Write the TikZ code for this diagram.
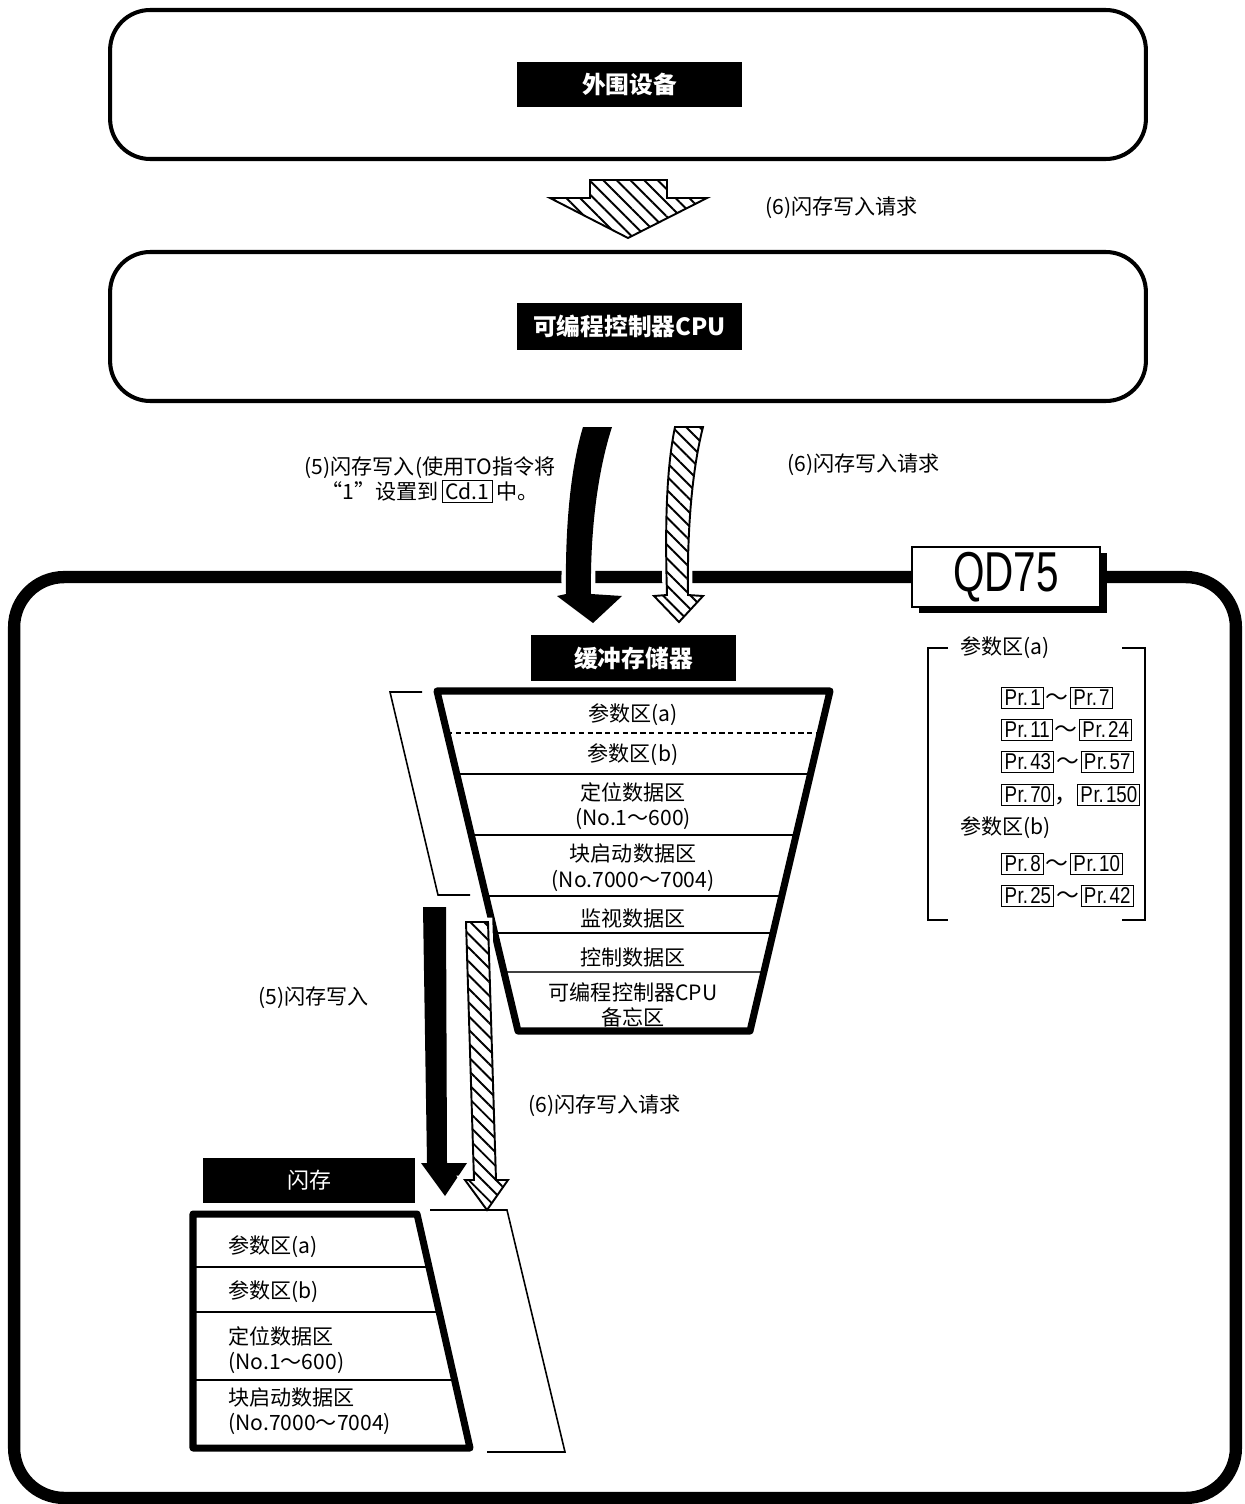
\documentclass[tikz,border=0pt]{standalone}
\usepackage{fontspec}
\usepackage{graphicx}
\setmainfont{Noto Sans CJK SC}
\newfontfamily\prfont{Liberation Sans}
\newfontfamily\qdfont{Liberation Sans}
\usetikzlibrary{positioning, calc, shadows, patterns.meta}
\definecolor{fmInk}{HTML}{000000}
\definecolor{fmRule}{HTML}{404040}
\setlength{\fboxsep}{1.2pt}
\setlength{\fboxrule}{0.6pt}
\newcommand{\prb}[1]{\fbox{\prfont\scalebox{0.82}[1]{P\kern0.5pt r.\kern1.5pt#1}}}
\tikzset{
    fmOuterBox/.style={
        draw=fmInk,
        line width=2.3pt,
        rounded corners=0.8cm,
        minimum width=20.72cm,
        minimum height=2.98cm
    },
    fmFrame/.style={
        draw=fmInk,
        line width=7pt,
        rounded corners=1cm,
        minimum width=24.44cm,
        minimum height=18.42cm
    },
    fmTag/.style={
        fill=fmInk,
        text=white,
        font=\fontsize{13.5}{16}\selectfont\bfseries
    },
    fmQdTag/.style={
        draw=fmInk,
        fill=white,
        line width=1.1pt,
        minimum width=3.76cm,
        minimum height=1.2cm,
        drop shadow={shadow xshift=0.14cm, shadow yshift=-0.12cm, fill=fmInk, opacity=1}
    },
    % memory outlines
    fmMem/.style={draw=fmInk, line width=4pt, line join=round},
    fmRuleLine/.style={draw=fmInk, line width=1.1pt},
    fmGuide/.style={draw=fmInk, line width=0.9pt},
    % arrows
    fmHatch/.style={
        draw=fmInk,
        line width=1.1pt,
        pattern={Lines[angle=-45, distance=5.5pt, line width=1.1pt]},
        preaction={fill=white, draw=white, line width=5pt}
    },
    fmSolid/.style={fill=fmInk, preaction={draw=white, line width=5pt}},
    % labels
    fmText/.style={font=\fontsize{12}{14.5}\selectfont},
    fmPrRow/.style={anchor=west, font=\fontsize{13}{15}\selectfont}
}

\begin{document}
\begin{tikzpicture}[x=0.02cm, y=-0.02cm, every node/.style={inner sep=0pt}]
    \useasboundingbox (0,0) rectangle (1244,1504);

    % peripheral device and PLC CPU
    \node[fmOuterBox] (periph) at (628,84.5) {};
    \node[fmTag, minimum width=4.5cm, minimum height=0.9cm] (periphTag) at (629.5,84.5) {外围设备};
    \node[fmOuterBox] (cpu) at (628,326.5) {};
    \node[fmTag, minimum width=4.5cm, minimum height=0.94cm] (cpuTag) at (629.5,326.5) {可编程控制器CPU};

    \draw[fmHatch] (590,180) -- (667,180) -- (667,198) -- (707,198) -- (628,238) -- (550,198) -- (590,198) -- cycle;
    \node[fmText, anchor=west] (reqTop) at (765,208) {(6)闪存写入请求};

    % QD75 module
    \node[fmFrame] (qdFrame) at (625,1037.5) {};
    \node[fmQdTag] (qdTag) at (1006,577) {\scalebox{0.72}[1]{\fontsize{32}{32}\selectfont\qdfont QD75}};

    \fill[fmSolid] (583,427) -- (612,427) .. controls (598,470) and (590,530) .. (591,594) -- (622,596) -- (593,623) -- (557,596) -- (566,594) .. controls (565,530) and (570,470) .. (583,427) -- cycle;
    \draw[fmHatch] (675,427) -- (703,427) .. controls (692,470) and (687,530) .. (688,595) -- (703,596) -- (679,622) -- (654,596) -- (667,595) .. controls (665,530) and (666,470) .. (675,427) -- cycle;
    \node[fmText, align=center] (writeTop) at (430,480) {(5)闪存写入(使用TO指令将\\“1”设置到\,\fbox{Cd.1}\,中。};
    \node[fmText, anchor=west] (reqMid) at (787,465) {(6)闪存写入请求};

    % buffer memory
    \node[fmTag, minimum width=4.1cm, minimum height=0.92cm] (bufTag) at (633.5,658) {缓冲存储器};
    \coordinate (btl) at (437,691);
    \coordinate (btr) at (830,691);
    \coordinate (bbr) at (750,1031);
    \coordinate (bbl) at (518,1031);
    \draw[fmRuleLine, line width=1pt, dash pattern=on 3pt off 2pt] ($(btl)!0.1235!(bbl)$) -- ($(btr)!0.1235!(bbr)$);
    \foreach \f in {0.2441, 0.4235, 0.6029, 0.7118}
        \draw[fmRuleLine] ($(btl)!\f!(bbl)$) -- ($(btr)!\f!(bbr)$);
    \draw[fmRuleLine, line width=1.6pt, draw=fmRule] ($(btl)!0.8265!(bbl)$) -- ($(btr)!0.8265!(bbr)$);
    \draw[fmMem] (btl) -- (btr) -- (bbr) -- (bbl) -- cycle;
    \draw[fmGuide] (422,692) -- (390,692) -- (438,895) -- (470,895);

    \node[fmText] (bufA) at (633,715) {参数区(a)};
    \node[fmText] (bufB) at (633,755) {参数区(b)};
    \node[fmText, align=center] (bufPos) at (633,806) {定位数据区\\(No.1～600)};
    \node[fmText, align=center] (bufBlk) at (633,867.5) {块启动数据区\\(No.7000～7004)};
    \node[fmText] (bufMon) at (633,918) {监视数据区};
    \node[fmText] (bufCtl) at (633,957) {控制数据区};
    \node[fmText, align=center] (bufMemo) at (633,1005) {可编程控制器CPU\\备忘区};

    % parameter list
    \draw[fmGuide] (948,648) -- (928,648) -- (928,920) -- (948,920);
    \draw[fmGuide] (1122,648) -- (1145,648) -- (1145,920) -- (1122,920);
    \node[fmText, anchor=west] (parA) at (960,648) {参数区(a)};
    \node[fmPrRow] (prA1) at (1001,698) {\prb{1}\kern1pt～\kern1pt\prb{7}};
    \node[fmPrRow] (prA2) at (1001,730) {\prb{11}\kern1pt～\kern1pt\prb{24}};
    \node[fmPrRow] (prA3) at (1001,762) {\prb{43}\kern1pt～\kern1pt\prb{57}};
    \node[fmPrRow] (prA4) at (1001,795) {\prb{70}，\prb{150}};
    \node[fmText, anchor=west] (parB) at (960,828) {参数区(b)};
    \node[fmPrRow] (prB1) at (1001,864) {\prb{8}\kern1pt～\kern1pt\prb{10}};
    \node[fmPrRow] (prB2) at (1001,896) {\prb{25}\kern1pt～\kern1pt\prb{42}};

    % write to flash
    \fill[fmSolid] (423,907) -- (446,907) -- (447,1163) -- (467,1163) -- (445,1196) -- (421,1163) -- (427,1163) -- cycle;
    \draw[fmHatch] (466,922) -- (488,922) -- (496,1180) -- (508,1180) -- (487,1210) -- (465,1180) -- (474,1180) -- cycle;
    \node[fmText, anchor=west] (writeLow) at (258,998) {(5)闪存写入};
    \node[fmText, anchor=west] (reqLow) at (528,1106) {(6)闪存写入请求};

    % flash ROM
    \node[fmTag, font=\fontsize{12.5}{15}\selectfont, minimum width=4.24cm, minimum height=0.9cm] (flashTag) at (309,1180.5) {闪存};
    \coordinate (ftl) at (193,1214);
    \coordinate (ftr) at (417,1214);
    \coordinate (fbr) at (470,1448);
    \coordinate (fbl) at (193,1448);
    \foreach \f in {0.2265, 0.4188, 0.7094}
        \draw[fmRuleLine] ($(ftl)!\f!(fbl)$) -- ($(ftr)!\f!(fbr)$);
    \draw[fmMem] (ftl) -- (ftr) -- (fbr) -- (fbl) -- cycle;
    \draw[fmGuide] (430,1210) -- (507,1210) -- (565,1452) -- (487,1452);

    \node[fmText, anchor=west] (flA) at (228,1247) {参数区(a)};
    \node[fmText, anchor=west] (flB) at (228,1292) {参数区(b)};
    \node[fmText, anchor=west, align=left] (flPos) at (228,1350) {定位数据区\\(No.1～600)};
    \node[fmText, anchor=west, align=left] (flBlk) at (228,1411) {块启动数据区\\(No.7000～7004)};
\end{tikzpicture}
\end{document}
